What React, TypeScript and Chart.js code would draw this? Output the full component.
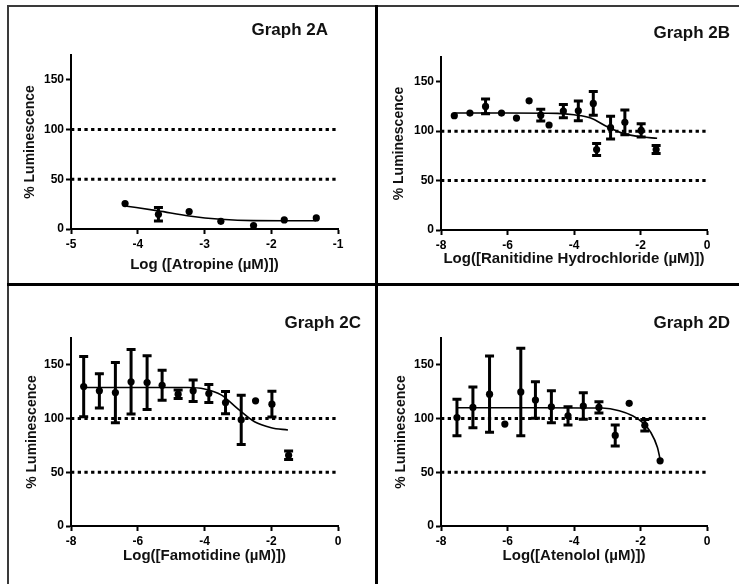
import React, { useEffect, useRef } from "react";
import { Chart, registerables } from "chart.js";

Chart.register(...registerables);

const FONT = "'Liberation Sans', Arial, Helvetica, sans-serif";

// ---------- Graph 2A : Atropine ----------
const aTitle = "Graph 2A";
const aXLabel = "Log ([Atropine (\u00b5M)])";
const aXTicks = [-5, -4, -3, -2, -1];
const aX = [-4.19, -3.69, -3.23, -2.755, -2.265, -1.805, -1.325];
const aY = [25.6, 14.8, 17.5, 7.7, 3.4, 9.1, 11.1];
const aErr = [0, 6.7, 0, 0, 0, 0, 0];
const aFitX = [-4.19, -3.69, -3.23, -2.755, -2.265, -1.805, -1.325];
const aFitY = [23.2, 18.2, 13.1, 9.8, 8.4, 8.3, 8.3];

// ---------- Graph 2B : Ranitidine Hydrochloride ----------
const bTitle = "Graph 2B";
const bXLabel = "Log([Ranitidine Hydrochloride (\u00b5M)])";
const bXTicks = [-8, -6, -4, -2, 0];
const bX = [-7.6, -7.13, -6.66, -6.18, -5.73, -5.35, -5.0, -4.75, -4.32, -3.87, -3.42, -3.32, -2.9, -2.47, -1.98, -1.53];
const bY = [115.6, 118.3, 125, 118.3, 113.2, 130.7, 116.2, 106.2, 120.3, 120.6, 128, 81.4, 103.5, 108.9, 100.7, 81.4];
const bErr = [0, 0, 7.5, 0, 0, 0, 6, 0, 6.7, 10, 12, 6, 11.5, 12.5, 6.7, 4];
const bFitX = [-7.6, -6, -4.5, -4, -3.5, -3, -2.5, -2, -1.5];
const bFitY = [118.3, 118.3, 118, 116.5, 113.3, 104.5, 97.5, 94.3, 92.8];

// ---------- Graph 2C : Famotidine ----------
const cTitle = "Graph 2C";
const cXLabel = "Log([Famotidine (\u00b5M)])";
const cXTicks = [-8, -6, -4, -2, 0];
const cX = [-7.62, -7.15, -6.67, -6.2, -5.72, -5.27, -4.79, -4.34, -3.87, -3.37, -2.9, -2.47, -1.98, -1.48];
const cY = [129.8, 125.8, 124.2, 134.2, 133.5, 131, 122.7, 125.8, 123.3, 114.9, 98.8, 116.5, 113.4, 65.8];
const cErr = [28, 16, 28, 30, 25, 14, 4, 10, 8.4, 10.4, 23, 0, 12, 4];
const cFitX = [-7.62, -6, -4.5, -4, -3.5, -3, -2.5, -2, -1.5];
const cFitY = [128.9, 128.9, 128.9, 127.5, 122, 109, 97, 91.5, 89.3];

// ---------- Graph 2D : Atenolol ----------
const dTitle = "Graph 2D";
const dXLabel = "Log([Atenolol (\u00b5M)])";
const dXTicks = [-8, -6, -4, -2, 0];
const dX = [-7.52, -7.04, -6.54, -6.08, -5.6, -5.16, -4.68, -4.18, -3.72, -3.25, -2.76, -2.34, -1.87, -1.41];
const dY = [101, 110.4, 122.7, 94.9, 124.8, 117.3, 111, 102.6, 111.7, 110.4, 84.3, 114.2, 93.8, 60.7];
const dErr = [17, 19, 35.5, 0, 40.7, 17, 15, 8.5, 12.4, 5.3, 9.8, 0, 5.3, 0];
const dFitX = [-7.52, -5, -3.15, -2.64, -2.24, -1.94, -1.69, -1.49, -1.41];
const dFitY = [110.1, 110.1, 109.8, 107.3, 102.6, 96.4, 87.1, 73.1, 62.2];

const yLabel = "% Luminescence";
const yTicks = [0, 50, 100, 150];
const yMax = 175;
const refLines = [100, 50];

const W = 739;
const H = 584;

type Layout = {
  left: number;
  top: number;
  right: number;
  bottom: number;
  yTitleX: number;
  xTitleY: number;
  titleDx: number;
  titleDy: number;
};

type PanelDef = {
  title: string;
  xLabel: string;
  xTicks: number[];
  xs: number[];
  ys: number[];
  errs: number[];
  fitX: number[];
  fitY: number[];
  layout: Layout;
};

const panels: PanelDef[] = [
  {
    title: aTitle, xLabel: aXLabel, xTicks: aXTicks, xs: aX, ys: aY, errs: aErr, fitX: aFitX, fitY: aFitY,
    layout: { left: 71, top: 55, right: 338, bottom: 229, yTitleX: 30, xTitleY: 264.5, titleDx: -10, titleDy: -25 },
  },
  {
    title: bTitle, xLabel: bXLabel, xTicks: bXTicks, xs: bX, ys: bY, errs: bErr, fitX: bFitX, fitY: bFitY,
    layout: { left: 441, top: 57, right: 707, bottom: 230, yTitleX: 399, xTitleY: 258.5, titleDx: 23, titleDy: -24 },
  },
  {
    title: cTitle, xLabel: cXLabel, xTicks: cXTicks, xs: cX, ys: cY, errs: cErr, fitX: cFitX, fitY: cFitY,
    layout: { left: 71, top: 338, right: 338, bottom: 526, yTitleX: 32, xTitleY: 556, titleDx: 23, titleDy: -15 },
  },
  {
    title: dTitle, xLabel: dXLabel, xTicks: dXTicks, xs: dX, ys: dY, errs: dErr, fitX: dFitX, fitY: dFitY,
    layout: { left: 441, top: 338, right: 707, bottom: 526, yTitleX: 401, xTitleY: 556, titleDx: 23, titleDy: -15 },
  },
];

const errorBarPlugin = {
  id: "errorBars",
  afterDatasetsDraw(chart: any) {
    const ctx = chart.ctx;
    const xs = chart.scales.x;
    const ys = chart.scales.y;
    chart.data.datasets.forEach((ds: any) => {
      if (!ds.errors) return;
      ds.data.forEach((pt: any, i: number) => {
        const e = ds.errors[i];
        if (!e) return;
        const px = xs.getPixelForValue(pt.x);
        const top = ys.getPixelForValue(pt.y + e);
        const bot = ys.getPixelForValue(pt.y - e);
        ctx.save();
        ctx.strokeStyle = "#000";
        ctx.lineWidth = 3;
        ctx.lineCap = "butt";
        ctx.beginPath();
        ctx.moveTo(px, top);
        ctx.lineTo(px, bot);
        ctx.moveTo(px - 4.5, top);
        ctx.lineTo(px + 4.5, top);
        ctx.moveTo(px - 4.5, bot);
        ctx.lineTo(px + 4.5, bot);
        ctx.stroke();
        ctx.restore();
      });
    });
  },
};

const panelTitlePlugin = {
  id: "panelTitle",
  afterDraw(chart: any, _args: any, opts: any) {
    const ctx = chart.ctx;
    const area = chart.chartArea;
    ctx.save();
    ctx.font = `bold 17px ${FONT}`;
    ctx.fillStyle = "#111";
    ctx.textAlign = "right";
    ctx.textBaseline = "middle";
    ctx.fillText(opts.text, area.right + opts.dx, area.top + opts.dy);
    ctx.restore();
  },
};

function makeConfig(p: PanelDef): any {
  const L = p.layout;
  const xMin = p.xTicks[0];
  const xMax = p.xTicks[p.xTicks.length - 1];
  const yHalf = (14 * 1.2) / 2;
  const xHalf = (15 * 1.2) / 2;
  const padLeft = L.yTitleX - yHalf;
  const xBoxBottom = L.xTitleY + xHalf;

  const refDatasets = refLines.map((v) => ({
    type: "line",
    data: [
      { x: xMin, y: v },
      { x: xMax, y: v },
    ],
    borderColor: "#000",
    borderWidth: 3,
    borderDash: [3.3, 3.4],
    pointRadius: 0,
    fill: false,
    order: 3,
  }));

  return {
    type: "line",
    data: {
      datasets: [
        ...refDatasets,
        {
          type: "line",
          data: p.fitX.map((x, i) => ({ x, y: p.fitY[i] })),
          borderColor: "#000",
          borderWidth: 1.6,
          pointRadius: 0,
          cubicInterpolationMode: "monotone",
          fill: false,
          order: 2,
        },
        {
          type: "line",
          showLine: false,
          data: p.xs.map((x, i) => ({ x, y: p.ys[i] })),
          errors: p.errs,
          pointRadius: 3.6,
          pointBackgroundColor: "#000",
          pointBorderColor: "#000",
          pointBorderWidth: 0,
          order: 1,
        },
      ],
    },
    options: {
      responsive: false,
      animation: false,
      devicePixelRatio: 1,
      events: [],
      layout: {
        padding: {
          left: padLeft,
          top: L.top,
          right: W - L.right,
          bottom: H - xBoxBottom,
        },
      },
      plugins: {
        legend: { display: false },
        tooltip: { enabled: false },
        title: { display: false },
        panelTitle: { text: p.title, dx: L.titleDx, dy: L.titleDy },
      },
      scales: {
        x: {
          type: "linear",
          min: xMin,
          max: xMax,
          afterBuildTicks: (s: any) => {
            s.ticks = p.xTicks.map((v) => ({ value: v }));
          },
          afterFit: (s: any) => {
            s.height = xBoxBottom - L.bottom;
          },
          ticks: {
            color: "#000",
            font: { family: FONT, size: 12, weight: "bold" },
            padding: 3,
            maxRotation: 0,
            autoSkip: false,
          },
          grid: {
            drawOnChartArea: false,
            drawTicks: true,
            tickLength: 5,
            tickWidth: 2,
            tickColor: "#000",
          },
          border: { display: true, color: "#000", width: 2 },
          title: {
            display: true,
            text: p.xLabel,
            color: "#111",
            font: { family: FONT, size: 15, weight: "bold" },
            padding: 0,
          },
        },
        y: {
          type: "linear",
          min: 0,
          max: yMax,
          afterBuildTicks: (s: any) => {
            s.ticks = yTicks.map((v) => ({ value: v }));
          },
          afterFit: (s: any) => {
            s.width = L.left - padLeft;
          },
          ticks: {
            color: "#000",
            font: { family: FONT, size: 12, weight: "bold" },
            padding: 2,
          },
          grid: {
            drawOnChartArea: false,
            drawTicks: true,
            tickLength: 5,
            tickWidth: 2,
            tickColor: "#000",
          },
          border: { display: true, color: "#000", width: 2 },
          title: {
            display: true,
            text: yLabel,
            color: "#111",
            font: { family: FONT, size: 14, weight: "bold" },
            padding: 0,
          },
        },
      },
    },
    plugins: [errorBarPlugin, panelTitlePlugin],
  };
}

function PanelChart({ panel }: { panel: PanelDef }) {
  const ref = useRef<HTMLCanvasElement | null>(null);
  useEffect(() => {
    if (!ref.current) return;
    const chart = new Chart(ref.current, makeConfig(panel));
    return () => chart.destroy();
  }, [panel]);
  return (
    <canvas
      ref={ref}
      width={W}
      height={H}
      style={{ position: "absolute", left: 0, top: 0, width: W, height: H }}
    />
  );
}

export default function App() {
  const line = (s: React.CSSProperties) => (
    <div style={{ position: "absolute", background: "#000", ...s }} />
  );
  return (
    <div
      style={{
        position: "absolute",
        left: 0,
        top: 0,
        width: W,
        height: H,
        background: "#fff",
        overflow: "hidden",
      }}
    >
      {line({ left: 7, top: 5, width: W - 7, height: 2, background: "#3a3a3a" })}
      {line({ left: 7, top: 5, width: 2, height: H - 5, background: "#3a3a3a" })}
      {line({ left: 375, top: 5, width: 3, height: H - 5 })}
      {line({ left: 7, top: 283, width: W - 7, height: 3 })}
      {panels.map((p, i) => (
        <PanelChart key={i} panel={p} />
      ))}
    </div>
  );
}
